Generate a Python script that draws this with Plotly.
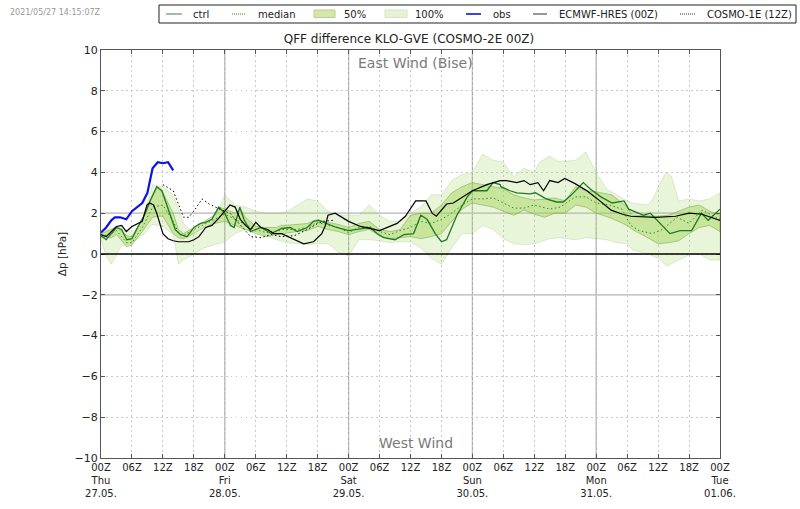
import plotly.graph_objects as go

# hours since 27.05. 00Z, values in hPa
ctrl_h = [0, 1, 3, 4, 5, 6, 7.3, 8.6, 9.5, 10.8, 11.8, 13, 14.4, 15.4, 16.7, 18, 19.3, 20.3, 21.5, 22.8, 24, 25.1, 25.8, 26.9, 27.7, 29, 31, 33, 35, 36.7, 38, 40, 41.2, 42.2, 43.8, 45.7, 48, 50.3, 52.2, 53.5, 54.8, 57, 58.7, 60.6, 62, 63.2, 64.8, 66, 67, 69, 71, 72, 74.8, 76, 77.4, 77.5, 79.3, 80.6, 83.2, 84.2, 86.3, 88.3, 89.6, 91.2, 93.5, 94.8, 96.9, 99.1, 101.4, 102.3, 105.2, 106.5, 108.4, 110.3, 112.3, 114.5, 116.4, 117.7, 120]
ctrl_v = [0.9, 0.7, 1.3, 1.2, 0.7, 0.75, 1.4, 2.0, 2.6, 3.3, 3.1, 2.2, 1.2, 0.95, 0.85, 1.3, 1.5, 1.55, 1.7, 2.3, 2.0, 1.4, 1.3, 2.3, 1.7, 1.1, 1.3, 1.0, 1.25, 1.3, 1.1, 1.3, 1.6, 1.65, 1.5, 1.3, 1.15, 1.25, 1.3, 1.0, 0.8, 0.7, 0.95, 1.0, 1.9, 1.7, 1.0, 0.6, 0.7, 1.9, 2.8, 3.1, 3.1, 3.5, 3.4, 3.3, 3.1, 3.0, 2.95, 3.0, 2.7, 2.55, 2.55, 2.9, 3.5, 3.2, 2.8, 2.5, 2.6, 2.2, 1.9, 2.0, 1.5, 1.0, 1.15, 1.15, 2.0, 1.65, 2.2]

median_h = [0, 2, 3, 5, 6, 8, 10, 12, 14, 15, 16, 18, 20, 22, 24, 26, 28, 30, 32, 34, 35, 38, 40, 42, 44, 46, 48, 50, 52, 54, 56, 58, 60, 62, 64, 66, 68, 70, 72, 74, 76, 78, 80, 82, 84, 87, 89, 92, 94, 96, 98.6, 101, 102.7, 104.3, 106.9, 108.8, 111.7, 114, 116.5, 120]
median_v = [0.85, 1.0, 1.15, 0.55, 0.55, 1.3, 2.3, 2.4, 1.6, 1.05, 0.9, 1.2, 1.45, 1.7, 1.95, 1.7, 1.45, 1.2, 1.05, 1.1, 1.2, 1.2, 1.3, 1.55, 1.4, 1.3, 1.05, 1.3, 1.35, 1.1, 0.95, 1.15, 1.3, 1.6, 1.5, 1.7, 2.0, 2.4, 2.7, 2.7, 2.75, 2.5, 2.25, 2.25, 2.4, 2.2, 2.3, 2.8, 2.8, 2.5, 2.4, 2.2, 1.4, 1.15, 1.0, 1.2, 1.8, 1.5, 2.15, 1.7]

q_h = [0, 2, 3, 5, 6, 8, 10, 11, 12, 14, 15, 16, 18, 20, 22, 23, 24, 26, 27, 28, 30, 32, 34, 35, 38, 40, 42, 44, 46, 48, 50, 52, 54, 56, 58, 60, 62, 64, 66, 68, 70, 72, 74, 76, 78, 80, 82, 84, 86, 88, 90, 92, 94, 96, 99, 102, 103, 106, 108, 110, 112, 114, 116, 118, 120]
q75_v = [1.0, 1.2, 1.35, 0.9, 0.85, 1.7, 2.8, 3.3, 3.0, 2.0, 1.2, 1.0, 1.3, 1.6, 1.9, 2.3, 2.2, 2.0, 2.2, 1.8, 1.35, 1.3, 1.3, 1.4, 1.45, 1.5, 1.7, 1.55, 1.45, 1.3, 1.5, 1.6, 1.2, 1.1, 1.2, 1.9, 2.0, 2.0, 2.4, 3.0, 3.3, 3.5, 3.4, 3.3, 3.2, 2.9, 2.75, 2.65, 2.7, 2.75, 2.6, 3.3, 3.1, 3.05, 2.9, 2.3, 1.9, 1.85, 1.85, 1.9, 2.1, 2.3, 2.4, 2.1, 1.9]
q25_v = [0.8, 0.8, 0.95, 0.35, 0.45, 1.1, 1.8, 1.85, 1.85, 1.0, 0.8, 0.75, 1.0, 1.3, 1.5, 1.55, 1.6, 1.4, 1.3, 1.2, 1.0, 0.85, 0.95, 1.0, 1.1, 1.15, 1.35, 1.2, 1.1, 0.95, 1.1, 1.2, 0.9, 0.75, 0.8, 0.85, 0.75, 0.85, 1.0, 1.6, 2.2, 2.5, 2.4, 2.3, 2.1, 1.9, 2.15, 1.95, 1.8, 2.0, 2.0, 2.4, 2.3, 2.0, 1.75, 1.4, 1.2, 0.8, 0.5, 0.55, 0.65, 1.0, 1.3, 1.4, 1.1]

full_h = [0, 1, 2, 4, 6, 8, 10, 12, 14, 15, 16, 18, 20, 22, 24, 26, 28, 30, 32, 34, 36, 38, 40, 42, 44, 46, 48, 50, 52, 54, 56, 58, 60, 62, 64, 66, 68, 70, 72, 74, 76, 78, 80, 82, 84, 85, 87, 88.6, 90, 92, 94, 96, 98, 100, 102, 103, 106, 107, 108.4, 109.6, 110.6, 112, 114, 116, 118, 120]
max_v = [1.1, 1.2, 1.25, 1.35, 1.0, 1.6, 3.4, 3.3, 2.9, 2.2, 1.5, 0.95, 1.1, 1.7, 2.9, 2.4, 2.3, 2.1, 2.0, 2.0, 2.05, 2.4, 2.7, 2.6, 2.1, 1.9, 1.9, 1.9, 2.4, 1.9, 1.6, 1.6, 2.0, 2.3, 2.9, 2.9, 3.6, 3.9, 4.0, 4.9, 4.6, 4.5, 3.8, 4.2, 4.0, 4.5, 4.8, 4.55, 4.55, 4.6, 5.0, 4.0, 3.2, 2.9, 2.6, 2.5, 2.4, 2.7, 3.5, 4.0, 3.8, 2.6, 2.7, 2.6, 2.7, 3.0]
min_v = [0.7, -0.1, -0.5, 0.4, 0.55, 0.9, 1.45, 1.35, 0.95, -0.5, -0.3, 0.0, 0.3, 0.45, 0.6, 1.0, 1.2, 1.1, 0.9, 0.7, 0.55, 0.5, 0.45, 0.5, 0.5, 0.1, -0.1, 0.7, 0.7, 0.65, 0.55, 0.6, 0.6, 0.3, -0.2, -0.5, 0.3, 1.0, 1.0, 1.4, 1.2, 0.75, 0.5, 0.45, 0.5, 0.6, 0.75, 0.8, 0.75, 0.7, 0.8, 0.75, 0.7, 0.55, 0.5, 0.2, 0.0, -0.1, -0.25, -0.6, -0.5, -0.3, -0.05, 0.0, -0.3, -0.3]

obs_h = [0, 1, 2, 2.7, 3.7, 4.9, 6, 7, 8, 9, 10, 11, 12, 13, 14]
obs_v = [1.05, 1.3, 1.65, 1.8, 1.8, 1.7, 2.1, 2.3, 2.5, 3.0, 4.2, 4.5, 4.45, 4.5, 4.1]

hres_h = [0, 1, 3, 4, 4.9, 6, 8, 8.9, 9.4, 10.2, 10.8, 12, 13, 14, 15, 17, 18, 19, 20.3, 21.5, 22.8, 24, 25, 26, 27, 28, 29, 30, 31, 32.3, 33.5, 35, 36.7, 39.3, 41.2, 42.8, 43.5, 44, 45.4, 48, 50.3, 54, 57.4, 59, 61, 63, 64.2, 65, 67, 68.3, 72, 74.8, 77.4, 78.6, 80.6, 82, 83.2, 84.7, 85.8, 87, 88.6, 89.9, 91.9, 94.2, 96, 98.9, 101.1, 102.7, 107.5, 111.4, 114, 116.5, 120]
hres_v = [0.95, 0.85, 1.35, 1.4, 1.1, 1.35, 1.6, 2.4, 2.5, 2.4, 2.0, 1.0, 0.75, 0.65, 0.6, 0.6, 0.7, 0.85, 1.3, 1.4, 1.75, 2.1, 2.4, 2.3, 1.7, 1.4, 1.2, 1.55, 1.3, 1.2, 1.0, 1.0, 0.8, 0.5, 0.6, 1.0, 1.4, 1.9, 2.0, 1.6, 1.35, 1.15, 1.5, 1.85, 2.6, 2.6, 2.0, 1.85, 2.45, 2.5, 3.1, 3.4, 3.6, 3.6, 3.5, 3.6, 3.4, 3.5, 3.1, 3.6, 3.5, 3.7, 3.45, 3.1, 2.75, 2.15, 1.95, 1.85, 1.8, 1.85, 2.0, 1.95, 1.65]

cosmo_h = [12, 14, 16, 17, 18, 19.6, 21, 23, 25, 27, 29, 31, 33, 35, 37.5, 40, 42, 43, 45]
cosmo_v = [3.4, 3.1, 1.8, 1.8, 2.1, 2.7, 2.45, 2.2, 2.0, 1.4, 0.85, 0.8, 0.95, 0.85, 0.9, 1.2, 1.5, 1.6, 1.65]

tick_hours = list(range(0, 121, 6))
day_names = ["Thu", "Fri", "Sat", "Sun", "Mon", "Tue"]
day_dates = ["27.05.", "28.05.", "29.05.", "30.05.", "31.05.", "01.06."]
tick_text = []
for h in tick_hours:
    label = f"{h % 24:02d}Z"
    if h % 24 == 0:
        d = h // 24
        label += f"<br>{day_names[d]}<br>{day_dates[d]}"
    tick_text.append(label)

y_ticks = list(range(-10, 11, 2))
y_text = [str(v).replace("-", "\u2212") for v in y_ticks]

band_100 = "rgba(165,215,105,0.25)"
band_50 = "rgba(160,210,80,0.45)"
ctrl_col = "#1f7a1f"
median_col = "#2f8a2f"
obs_col = "#0a14e6"
dots = "1.5px,2.5px"
grid_dots = "1.5px,3.5px"

fig = go.Figure()

# bands first so the lines sit on top
fig.add_trace(go.Scatter(x=full_h + full_h[::-1], y=max_v + min_v[::-1], fill="toself", mode="lines",
                         fillcolor=band_100, line=dict(color="rgba(120,170,80,0.2)", width=1), name="100%"))
fig.add_trace(go.Scatter(x=q_h + q_h[::-1], y=q75_v + q25_v[::-1], fill="toself", mode="lines",
                         fillcolor=band_50, line=dict(color="rgba(90,140,50,0.4)", width=1), name="50%"))
fig.add_trace(go.Scatter(x=median_h, y=median_v, mode="lines", line=dict(color=median_col, width=1, dash=dots), name="median"))
fig.add_trace(go.Scatter(x=ctrl_h, y=ctrl_v, mode="lines", line=dict(color=ctrl_col, width=1.3), name="ctrl"))
fig.add_trace(go.Scatter(x=hres_h, y=hres_v, mode="lines", line=dict(color="black", width=1.2), name="ECMWF-HRES (00Z)"))
fig.add_trace(go.Scatter(x=cosmo_h, y=cosmo_v, mode="lines", line=dict(color="black", width=1, dash=dots), name="COSMO-1E (12Z)"))
fig.add_trace(go.Scatter(x=obs_h, y=obs_v, mode="lines", line=dict(color=obs_col, width=2.2), name="obs"))

for h in range(24, 120, 24):
    fig.add_vline(x=h, line=dict(color="#a8a8a8", width=1.2), layer="below")
for v in [-2, 2]:
    fig.add_hline(y=v, line=dict(color="#b4b4b4", width=1.2), layer="below")
fig.add_hline(y=0, line=dict(color="black", width=1.4))


# plotly's legend box is too tall and can't space entries like this, so draw it by hand
def px(x):
    return (x - 101) / 619


def py(y):
    return (458 - y) / 408


fig.add_shape(type="rect", xref="paper", yref="paper", x0=px(159), x1=px(796), y0=py(23), y1=py(5),
              line=dict(color="#222222", width=1), fillcolor="white")

line_keys = [(166, 182, "#5f965f", 1.2, "solid"), (232, 245, median_col, 1, "1px,1px"), (466, 481, obs_col, 1.6, "solid"),
             (533, 547, "#555555", 1.2, "solid"), (680, 695, "#333333", 1, "1px,1px")]
for x0, x1, col, w, dash in line_keys:
    fig.add_shape(type="line", xref="paper", yref="paper", x0=px(x0), x1=px(x1), y0=py(14), y1=py(14),
                  line=dict(color=col, width=w, dash=dash))

box_keys = [(314, 335, "#d3e8a8", "#b9cf92"), (385, 407, "#e8f3d6", "#d8e4c6")]
for x0, x1, col, edge in box_keys:
    fig.add_shape(type="rect", xref="paper", yref="paper", x0=px(x0), x1=px(x1), y0=py(17.5), y1=py(10),
                  fillcolor=col, line=dict(color=edge, width=1))

legend_labels = ["ctrl", "median", "50%", "100%", "obs", "ECMWF-HRES (00Z)", "COSMO-1E (12Z)"]
legend_x = [192, 257, 343, 414, 492, 558, 706]
annotations = [dict(text=t, xref="paper", yref="paper", x=px(x), y=py(14), xanchor="left", yanchor="middle",
                    xshift=-1, showarrow=False, font=dict(size=10, color="#222222"))
               for t, x in zip(legend_labels, legend_x)]
annotations += [
    dict(text="2021/05/27 14:15:07Z", xref="paper", yref="paper", x=px(8), y=py(12),
         xanchor="left", yanchor="middle", showarrow=False, font=dict(size=8, color="#999999")),
    dict(text="East Wind (Bise)", x=61, y=9.35, showarrow=False, font=dict(size=14, color="#7a7a7a")),
    dict(text="West Wind", x=61, y=-9.25, showarrow=False, font=dict(size=14, color="#7a7a7a")),
]

fig.update_layout(
    width=800, height=509,
    margin=dict(l=101, r=80, t=50, b=51, autoexpand=False),
    showlegend=False,
    paper_bgcolor="white", plot_bgcolor="white",
    font=dict(family="DejaVu Sans", size=10.5, color="#222222"),
    title=dict(text="QFF difference KLO-GVE (COSMO-2E 00Z)", x=409 / 800, xanchor="center",
               y=1 - 39 / 509, yanchor="middle", font=dict(size=12)),
    xaxis=dict(range=[0, 120], tickvals=tick_hours, ticktext=tick_text, tickangle=0,
               ticks="inside", ticklen=4, tickcolor="#555555", mirror="ticks",
               showline=True, linecolor="#555555", linewidth=1,
               showgrid=True, gridcolor="#c8c8c8", griddash=grid_dots, gridwidth=1, zeroline=False,
               tickfont=dict(size=10)),
    yaxis=dict(range=[-10, 10], tickvals=y_ticks, ticktext=y_text,
               ticks="inside", ticklen=4, tickcolor="#555555", mirror="ticks",
               showline=True, linecolor="#555555", linewidth=1,
               showgrid=True, gridcolor="#c8c8c8", griddash=grid_dots, gridwidth=1, zeroline=False,
               title=dict(text="\u0394p [hPa]", font=dict(size=10.5), standoff=5),
               tickfont=dict(size=11)),
    annotations=annotations,
)

# the page's default body margin would push the fixed-size figure off by 8px
fig.write_html("out.html", config=dict(displayModeBar=False), post_script="document.body.style.margin = '0';")
